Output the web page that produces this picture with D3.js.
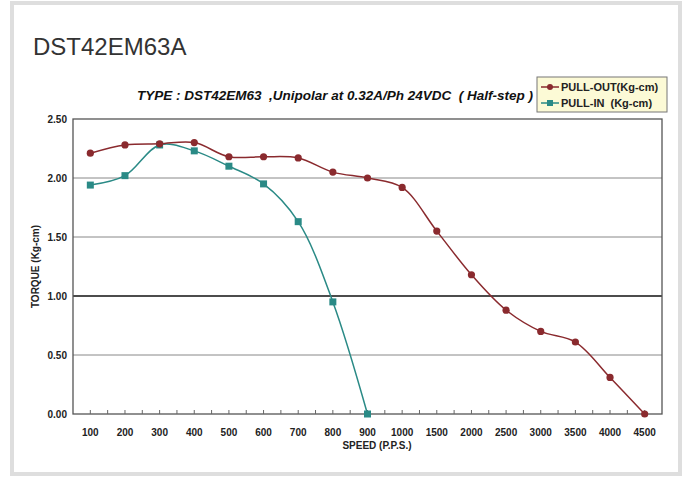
<!DOCTYPE html>
<html>
<head>
<meta charset="utf-8">
<script src="https://cdn.jsdelivr.net/npm/d3@7"></script>
<style>
  body { margin: 0; background: #fff; }
  svg { display: block; font-family: 'Liberation Sans', Arial, sans-serif; }
  .axis path { display: none; }
  .axis text { font-weight: bold; fill: #222; }
</style>
</head>
<body>
<script>
const width = 686;
const height = 479;

// plot box
const plot = { left: 73, right: 662, top: 119, bottom: 414 };

const speeds = ['100', '200', '300', '400', '500', '600', '700', '800', '900',
  '1000', '1500', '2000', '2500', '3000', '3500', '4000', '4500'];
const pullOut = [2.21, 2.28, 2.29, 2.30, 2.18, 2.18, 2.17, 2.05, 2.00,
  1.92, 1.55, 1.18, 0.88, 0.70, 0.61, 0.31, 0.00];
const pullInSpeeds = ['100', '200', '300', '400', '500', '600', '700', '800', '900'];
const pullIn = [1.94, 2.02, 2.28, 2.23, 2.10, 1.95, 1.63, 0.95, 0.00];
const torqueTicks = [0, 0.5, 1.0, 1.5, 2.0, 2.5];

const outColor = '#8a2a2e';
const inColor = '#2a8a86';

const svg = d3.select('body').append('svg')
    .attr('width', width)
    .attr('height', height);

// page frame
svg.append('rect')
    .attr('x', 12).attr('y', 3)
    .attr('width', 668).attr('height', 471)
    .attr('fill', 'none')
    .attr('stroke', '#dedede')
    .attr('stroke-width', 4);

svg.append('text')
    .attr('x', 33).attr('y', 55)
    .style('font-size', '24px')
    .attr('fill', '#333')
    .text('DST42EM63A');

svg.append('text')
    .attr('x', 335).attr('y', 100)
    .attr('text-anchor', 'middle')
    .style('font-size', '13.5px')
    .style('font-weight', 'bold')
    .style('font-style', 'italic')
    .style('white-space', 'pre')
    .attr('fill', '#111')
    .text('TYPE : DST42EM63  ,Unipolar at 0.32A/Ph 24VDC  ( Half-step )');

const x = d3.scaleBand()
    .domain(speeds)
    .range([plot.left, plot.right]);

const y = d3.scaleLinear()
    .domain([0, 2.5])
    .range([plot.bottom, plot.top]);

const cx = d => x(d) + x.bandwidth() / 2;

// gridlines
svg.append('g')
  .selectAll('line')
  .data(torqueTicks.filter(t => t > 0 && t < 2.5))
  .join('line')
    .attr('x1', plot.left).attr('x2', plot.right)
    .attr('y1', d => y(d)).attr('y2', d => y(d))
    .attr('stroke', d => d === 1 ? '#111' : '#888')
    .attr('stroke-width', d => d === 1 ? 1.3 : 1);

svg.append('rect')
    .attr('x', plot.left).attr('y', plot.top)
    .attr('width', plot.right - plot.left)
    .attr('height', plot.bottom - plot.top)
    .attr('fill', 'none')
    .attr('stroke', '#555')
    .attr('stroke-width', 1.3);

// axes
svg.append('g')
    .attr('class', 'axis')
    .attr('transform', `translate(${plot.left},0)`)
    .call(d3.axisLeft(y).tickValues(torqueTicks).tickFormat(d3.format('.2f')).tickSize(0).tickPadding(6))
    .selectAll('text').style('font-size', '10px');

const xAxis = svg.append('g')
    .attr('class', 'axis')
    .attr('transform', `translate(0,${plot.bottom})`)
    .call(d3.axisBottom(x).tickSize(-4).tickPadding(15));
xAxis.selectAll('line').attr('stroke', '#666');
xAxis.selectAll('text').style('font-size', '10px');

// minor ticks on band edges
svg.append('g')
  .selectAll('line')
  .data(speeds.slice(1))
  .join('line')
    .attr('x1', d => x(d)).attr('x2', d => x(d))
    .attr('y1', plot.bottom).attr('y2', plot.bottom - 4)
    .attr('stroke', '#666');

svg.append('text')
    .attr('x', 377).attr('y', 449)
    .attr('text-anchor', 'middle')
    .style('font-size', '10px')
    .style('font-weight', 'bold')
    .attr('fill', '#222')
    .text('SPEED (P.P.S.)');

svg.append('text')
    .attr('transform', `translate(39,${(plot.top + plot.bottom) / 2}) rotate(-90)`)
    .attr('text-anchor', 'middle')
    .style('font-size', '10px')
    .style('font-weight', 'bold')
    .attr('fill', '#222')
    .text('TORQUE (Kg-cm)');

// curves
const line = d3.line()
    .x(d => cx(d.s))
    .y(d => y(d.v))
    .curve(d3.curveCatmullRom.alpha(0.5));

const outData = speeds.map((s, i) => ({ s, v: pullOut[i] }));
const inData = pullInSpeeds.map((s, i) => ({ s, v: pullIn[i] }));

svg.append('path')
    .datum(inData)
    .attr('d', line)
    .attr('fill', 'none')
    .attr('stroke', inColor)
    .attr('stroke-width', 1.5);

svg.append('path')
    .datum(outData)
    .attr('d', line)
    .attr('fill', 'none')
    .attr('stroke', outColor)
    .attr('stroke-width', 1.5);

svg.append('g')
  .selectAll('rect')
  .data(inData)
  .join('rect')
    .attr('x', d => cx(d.s) - 3.5)
    .attr('y', d => y(d.v) - 3.5)
    .attr('width', 7).attr('height', 7)
    .attr('fill', inColor);

svg.append('g')
  .selectAll('circle')
  .data(outData)
  .join('circle')
    .attr('cx', d => cx(d.s))
    .attr('cy', d => y(d.v))
    .attr('r', 3.6)
    .attr('fill', outColor);

// legend
const legend = svg.append('g').attr('transform', 'translate(537,77)');
legend.append('rect')
    .attr('width', 130).attr('height', 35)
    .attr('fill', '#fcfad6')
    .attr('stroke', '#777');

const items = [
  { name: 'PULL-OUT(Kg-cm)', color: outColor, shape: 'circle' },
  { name: 'PULL-IN  (Kg-cm)', color: inColor, shape: 'square' }
];
items.forEach((it, i) => {
  const g = legend.append('g').attr('transform', `translate(0,${10 + i * 16})`);
  g.append('line')
      .attr('x1', 4).attr('x2', 22)
      .attr('stroke', it.color).attr('stroke-width', 1.5);
  if (it.shape === 'circle') {
    g.append('circle').attr('cx', 13).attr('r', 3).attr('fill', it.color);
  } else {
    g.append('rect').attr('x', 10).attr('y', -3).attr('width', 6).attr('height', 6).attr('fill', it.color);
  }
  g.append('text')
      .attr('x', 24).attr('y', 4)
      .style('font-size', '11px')
      .style('font-weight', 'bold')
      .style('white-space', 'pre')
      .attr('fill', '#222')
      .text(it.name);
});
</script>
</body>
</html>
